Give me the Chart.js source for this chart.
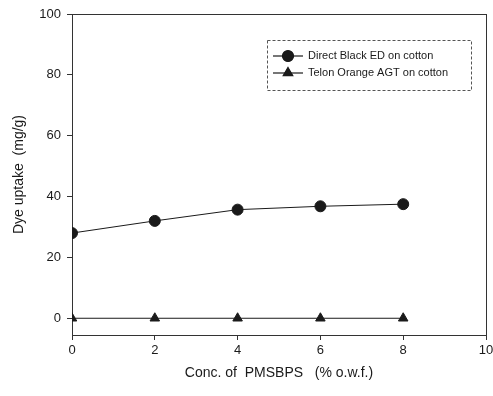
<!DOCTYPE html>
<html>
<head>
<meta charset="utf-8">
<script src="https://cdn.jsdelivr.net/npm/chart.js@4"></script>
<style>
  body { margin: 0; background: #fff; }
  #wrap { width: 493px; height: 396px; }
</style>
</head>
<body>
<div id="wrap"><canvas id="dyeChart" width="493" height="396"></canvas></div>
<script>
// values
const concentrations = [0, 2, 4, 6, 8];                 // % o.w.f.
const directBlack = [28, 32, 35.7, 36.8, 37.5];         // mg/g
const telonOrange = [0, 0, 0, 0, 0];                    // mg/g
const seriesLabels = ['Direct Black ED on cotton', 'Telon Orange AGT on cotton'];

const ink = '#1a1a1a';

// box round the plot area
const framePlugin = {
    id: 'frame',
    beforeDatasetsDraw(chart) {
        const a = chart.chartArea;
        const ctx = chart.ctx;
        ctx.save();
        ctx.strokeStyle = '#333';
        ctx.lineWidth = 1;
        ctx.strokeRect(a.left + 0.5, a.top + 0.5, a.right - a.left, a.bottom - a.top);
        ctx.restore();
    }
};

// dashed legend box inside the plot, built from the datasets
const boxLegend = {
    id: 'boxLegend',
    afterDraw(chart) {
        const ctx = chart.ctx;
        const x0 = 267, y0 = 40, w = 204, h = 50;
        ctx.save();
        ctx.setLineDash([3, 2]);
        ctx.strokeStyle = '#555';
        ctx.lineWidth = 1;
        ctx.strokeRect(x0 + 0.5, y0 + 0.5, w, h);
        ctx.setLineDash([]);
        chart.data.datasets.forEach((ds, i) => {
            const y = 56 + i * 17;
            ctx.strokeStyle = ink;
            ctx.lineWidth = 1.2;
            ctx.beginPath();
            ctx.moveTo(273, y);
            ctx.lineTo(303, y);
            ctx.stroke();
            Chart.helpers.drawPoint(ctx, {
                pointStyle: ds.pointStyle,
                radius: ds.pointRadius,
                borderWidth: 1
            }, 288, y);
            ctx.fillStyle = ink;
            ctx.fill();
            ctx.font = '11px "Liberation Sans", Arial, sans-serif';
            ctx.textBaseline = 'middle';
            ctx.fillText(ds.label, 308, y);
        });
        ctx.restore();
    }
};

const ctx = document.getElementById('dyeChart').getContext('2d');
const chart = new Chart(ctx, {
    type: 'line',
    data: {
        datasets: [
            {
                label: seriesLabels[0],
                data: concentrations.map((c, i) => ({ x: c, y: directBlack[i] })),
                borderColor: ink,
                backgroundColor: ink,
                borderWidth: 1,
                pointStyle: 'circle',
                pointRadius: 5.5,
                tension: 0
            },
            {
                label: seriesLabels[1],
                data: concentrations.map((c, i) => ({ x: c, y: telonOrange[i] })),
                borderColor: ink,
                backgroundColor: ink,
                borderWidth: 1,
                pointStyle: 'triangle',
                pointRadius: 5.5,
                tension: 0
            }
        ]
    },
    options: {
        responsive: false,
        animation: false,
        layout: { padding: { top: 14, right: 7, left: 0, bottom: 0 } },
        plugins: {
            legend: { display: false },
            tooltip: { enabled: false }
        },
        scales: {
            x: {
                type: 'linear',
                min: 0,
                max: 10,
                ticks: {
                    stepSize: 2,
                    color: ink,
                    padding: 3,
                    font: { family: '"Liberation Sans", Arial, sans-serif', size: 13 }
                },
                grid: { drawOnChartArea: false, tickLength: 5, color: '#333' },
                border: { color: '#333' },
                title: {
                    display: true,
                    text: 'Conc. of  PMSBPS   (% o.w.f.)',
                    color: ink,
                    padding: { top: 4, bottom: 14 },
                    font: { family: '"Liberation Sans", Arial, sans-serif', size: 14 }
                },
                afterFit(scale) {
                    scale.height = 61;
                    scale.paddingLeft = 0;
                    scale.paddingRight = 0;
                }
            },
            y: {
                min: -5.5,
                max: 100,
                ticks: {
                    stepSize: 20,
                    color: ink,
                    padding: 6,
                    font: { family: '"Liberation Sans", Arial, sans-serif', size: 13 }
                },
                afterBuildTicks(scale) {
                    scale.ticks = scale.ticks.filter(t => t.value >= 0);
                },
                grid: { drawOnChartArea: false, tickLength: 5, color: '#333' },
                border: { color: '#333' },
                title: {
                    display: true,
                    text: 'Dye uptake  (mg/g)',
                    color: ink,
                    padding: { top: 11, bottom: 0 },
                    font: { family: '"Liberation Sans", Arial, sans-serif', size: 14 }
                },
                afterFit(scale) {
                    scale.width = 72;
                    scale.paddingTop = 0;
                    scale.paddingBottom = 0;
                }
            }
        }
    },
    plugins: [framePlugin, boxLegend]
});
</script>
</body>
</html>
